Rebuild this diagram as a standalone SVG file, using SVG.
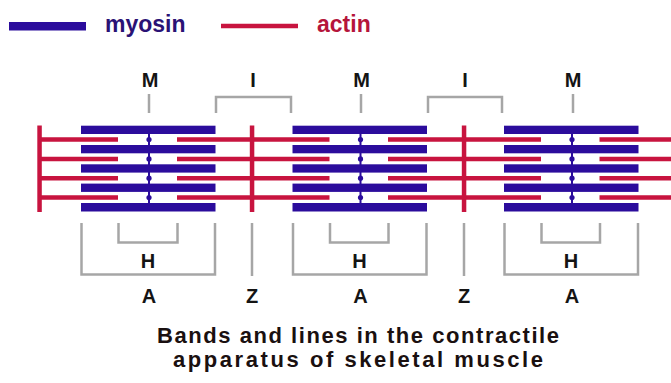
<svg xmlns="http://www.w3.org/2000/svg" width="671" height="383" viewBox="0 0 671 383">
<style>
.my{fill:#2b0c9c}
.ac{stroke:#c8143f;stroke-width:4.5;fill:none}
.z{fill:#c8143f}
.ml{stroke:#2b0c9c;stroke-width:2;fill:none}
.dot{fill:#2b0c9c}
.br{stroke:#a6a6a6;stroke-width:2.5;fill:none}
.lb{font-family:"Liberation Sans",Arial,sans-serif;font-weight:bold;font-size:20px;fill:#141414;text-anchor:middle}
.cap{font-family:"Liberation Sans",Arial,sans-serif;font-weight:bold;font-size:22px;fill:#1a1010;text-anchor:middle}
.lg{font-family:"Liberation Sans",Arial,sans-serif;font-weight:bold;font-size:23px}
</style>
<defs>
<g id="myo">
<rect x="0" y="125.7" width="134.5" height="8.3" class="my"/>
<rect x="0" y="145" width="134.5" height="8.3" class="my"/>
<rect x="0" y="164.3" width="134.5" height="8.3" class="my"/>
<rect x="0" y="183.6" width="134.5" height="8.3" class="my"/>
<rect x="0" y="203" width="134.5" height="8.5" class="my"/>
<line x1="68" y1="130" x2="68" y2="207" class="ml"/>
<circle cx="68" cy="139.6" r="2.6" class="dot"/>
<circle cx="68" cy="158.9" r="2.6" class="dot"/>
<circle cx="68" cy="178.2" r="2.6" class="dot"/>
<circle cx="68" cy="197.5" r="2.6" class="dot"/>
</g>
</defs>
<g id="legend">
<rect x="9" y="22" width="77" height="8.5" class="my"/>
<text x="105" y="32" class="lg" fill="#2a1275">myosin</text>
<line x1="221" y1="26" x2="298" y2="26" class="ac"/>
<text x="317" y="32" class="lg" fill="#b5153b">actin</text>
</g>
<g id="connectors">
<path class="ac" d="M39.5 139.6H118M39.5 158.9H118M39.5 178.2H118M39.5 197.5H118"/>
<path class="ac" d="M177 139.6H329.5M177 158.9H329.5M177 178.2H329.5M177 197.5H329.5"/>
<path class="ac" d="M388 139.6H541M388 158.9H541M388 178.2H541M388 197.5H541"/>
<path class="ac" d="M599.5 139.6H671M599.5 158.9H671M599.5 178.2H671M599.5 197.5H671"/>
</g>
<g id="zlines">
<rect x="37.3" y="125.5" width="4.5" height="86.5" class="z"/>
<rect x="249.8" y="125.5" width="4.5" height="86.5" class="z"/>
<rect x="461.8" y="125.5" width="4.5" height="86.5" class="z"/>
</g>
<g id="sarcomere1"><use href="#myo" x="81"/></g>
<g id="sarcomere2"><use href="#myo" x="292.5"/></g>
<g id="sarcomere3"><use href="#myo" x="504"/></g>
<g id="top-labels">
<text x="150" y="87" class="lb">M</text>
<text x="361.5" y="87" class="lb">M</text>
<text x="573" y="87" class="lb">M</text>
<text x="253" y="87" class="lb">I</text>
<text x="465" y="87" class="lb">I</text>
<path class="br" d="M149 94V113M361 94V113M573 94V113"/>
<path class="br" d="M216 113V97H291V113M428 113V97H502V113"/>
</g>
<g id="bottom-labels">
<path class="br" d="M81.5 223V274.5H215V223M293 223V274.5H426.5V223M504.5 223V274.5H638V223"/>
<path class="br" d="M118.5 223V242.5H177.5V223M330 223V242.5H388.5V223M541.5 223V242.5H600V223"/>
<path class="br" d="M252 223V276M464 223V276"/>
<text x="148" y="268" class="lb">H</text>
<text x="359.5" y="268" class="lb">H</text>
<text x="571" y="268" class="lb">H</text>
<text x="149" y="303" class="lb">A</text>
<text x="360.5" y="303" class="lb">A</text>
<text x="572" y="303" class="lb">A</text>
<text x="252" y="303" class="lb">Z</text>
<text x="464" y="303" class="lb">Z</text>
</g>
<g id="caption">
<text x="358" y="342.5" class="cap" textLength="402" lengthAdjust="spacing">Bands and lines in the contractile</text>
<text x="358" y="367" class="cap" textLength="370" lengthAdjust="spacing">apparatus of skeletal muscle</text>
</g>
</svg>
